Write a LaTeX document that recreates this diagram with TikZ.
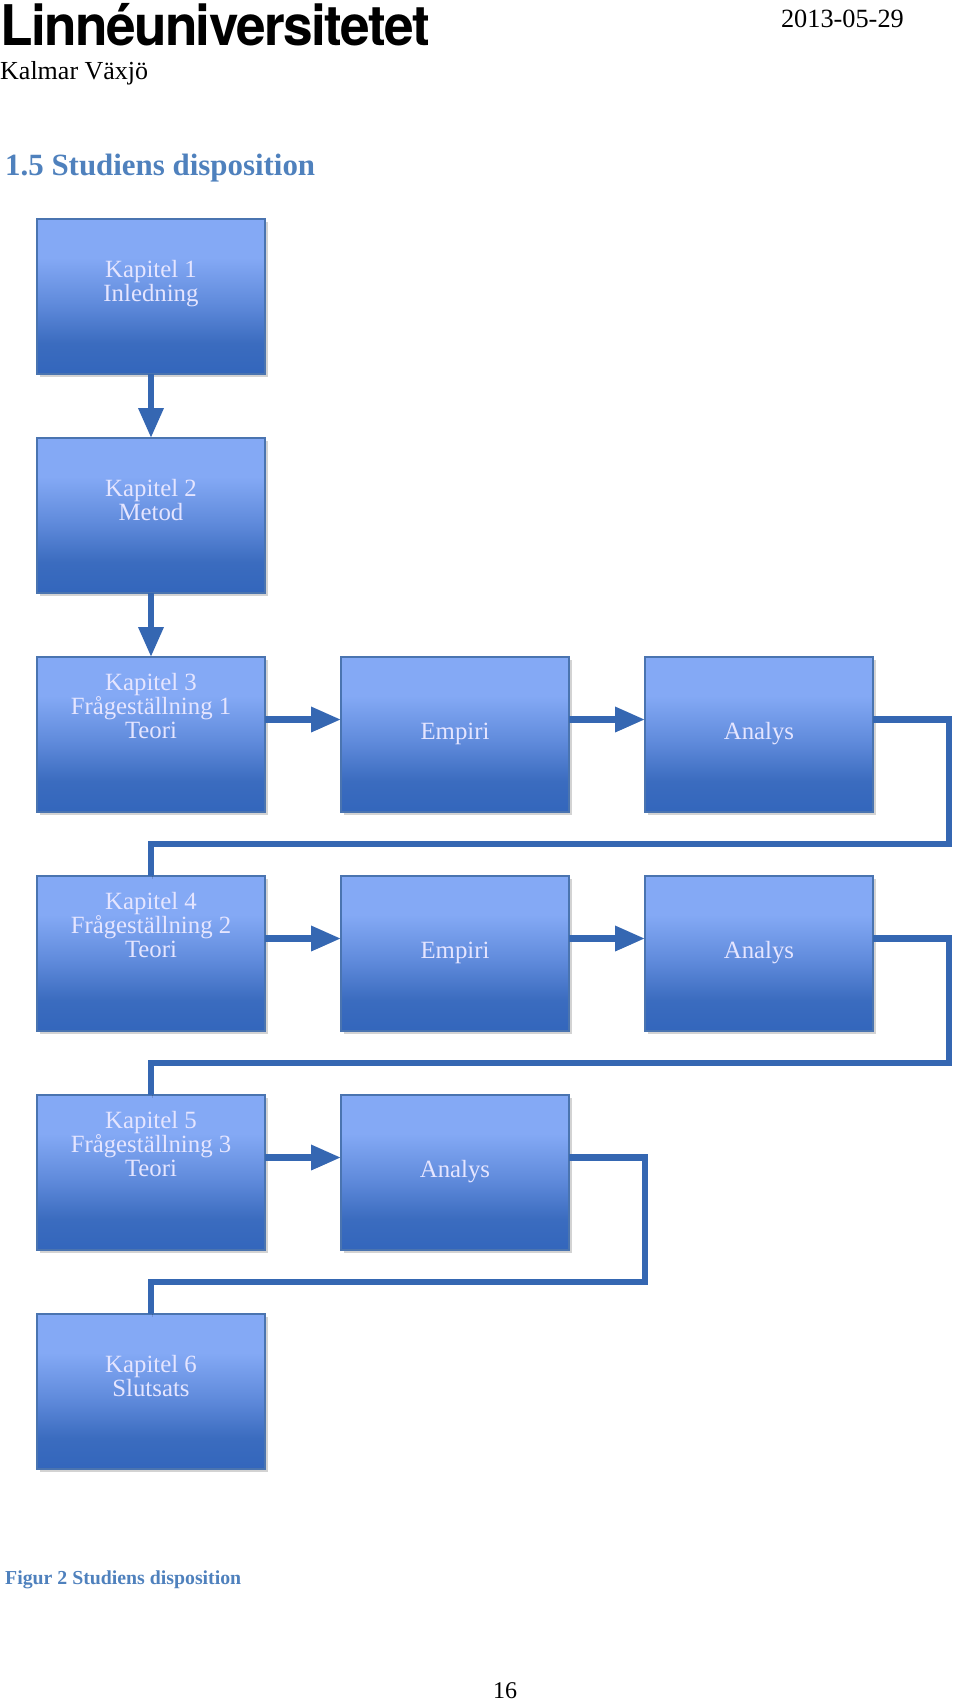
\documentclass[tikz,border=0pt]{standalone}
\usepackage{fontspec}
\setmainfont{Liberation Serif}
\newfontfamily\logofont[LetterSpace=-3]{TeX Gyre Heros}
\usetikzlibrary{arrows.meta, shadows}

\definecolor{boxline}{HTML}{4A74B0}
\definecolor{flowblue}{HTML}{3567B2}
\definecolor{headblue}{HTML}{4F81BD}
\definecolor{filltop}{HTML}{84A9F5}
\definecolor{fillmid}{HTML}{5F8ADB}
\definecolor{filllow}{HTML}{3B6CBF}
\definecolor{fillend}{HTML}{3366BC}
\pgfdeclareverticalshading{chapfill}{100bp}{
	color(0bp)=(fillend);
	color(25bp)=(fillend);
	color(35bp)=(filllow);
	color(47.5bp)=(fillmid);
	color(62.5bp)=(filltop);
	color(100bp)=(filltop)}

\begin{document}
\begin{tikzpicture}[x=1pt,y=-1pt,node distance=219pt,>={Triangle[length=30pt,width=24pt]},
	chapbox/.style={draw=boxline,line width=2pt,shading=chapfill,minimum width=228pt,minimum height=155pt,
		inner sep=0pt,outer sep=0pt,align=center,text=white!90!blue,font=\fontsize{24.8}{24}\selectfont,text depth=#1,
		drop shadow={shadow xshift=3pt,shadow yshift=-3pt,opacity=.35}},
	across/.style={node distance=304pt},
	flow/.style={draw=flowblue,line width=6.5pt,preaction={draw=black,opacity=.15,transform canvas={xshift=1.5pt,yshift=-2.5pt}}},
	ret/.style={flow,line join=miter}]
	\useasboundingbox (0,0) rectangle (960,1701);

	% page head
	\node[anchor=base west,inner sep=0pt,font=\logofont\bfseries\fontsize{56}{56}\selectfont] (logo) at (0,45) {\scalebox{.95}[1]{Linnéuniversitetet}};
	\node[anchor=base west,inner sep=0pt,font=\fontsize{26}{26}\selectfont] (orter) at (0,79) {Kalmar Växjö};
	\node[anchor=base east,inner sep=0pt,font=\fontsize{26.3}{26}\selectfont] (datum) at (904,27) {2013-05-29};
	\node[anchor=base west,inner sep=0pt,text=headblue,font=\bfseries\fontsize{30.9}{30}\selectfont] (rubrik) at (5,175) {1.5 Studiens disposition};

	% chapter boxes
	\node[chapbox=32pt] (K1) at (151,296.5) {Kapitel 1\\Inledning};
	\node[chapbox=32pt] (K2) [below of=K1] {Kapitel 2\\Metod};
	\node[chapbox=57pt] (K3) [below of=K2] {Kapitel 3\\Frågeställning 1\\Teori};
	\node[chapbox=57pt] (K4) [below of=K3] {Kapitel 4\\Frågeställning 2\\Teori};
	\node[chapbox=57pt] (K5) [below of=K4] {Kapitel 5\\Frågeställning 3\\Teori};
	\node[chapbox=32pt] (K6) [below of=K5] {Kapitel 6\\Slutsats};
	\node[chapbox=7pt,across] (E1) [right of=K3] {Empiri};
	\node[chapbox=7pt,across] (A1) [right of=E1] {Analys};
	\node[chapbox=7pt,across] (E2) [right of=K4] {Empiri};
	\node[chapbox=7pt,across] (A2) [right of=E2] {Analys};
	\node[chapbox=7pt,across] (A3) [right of=K5] {Analys};

	% bends of the return lines
	\coordinate (R1) at (949,844);
	\coordinate (R2) at (949,1063);
	\coordinate (R3) at (645,1282);

	\draw[flow,->] (K1) -- (K2);
	\draw[flow,->] (K2) -- (K3);
	\draw[flow,->] ([yshift=15pt]K3.east) -- ([yshift=15pt]E1.west);
	\draw[flow,->] ([yshift=15pt]E1.east) -- ([yshift=15pt]A1.west);
	\draw[flow,->] ([yshift=15pt]K4.east) -- ([yshift=15pt]E2.west);
	\draw[flow,->] ([yshift=15pt]E2.east) -- ([yshift=15pt]A2.west);
	\draw[flow,->] ([yshift=15pt]K5.east) -- ([yshift=15pt]A3.west);
	\draw[ret] ([yshift=15pt]A1.east) -| (R1) -| (K4.north);
	\draw[ret] ([yshift=15pt]A2.east) -| (R2) -| (K5.north);
	\draw[ret] ([yshift=15pt]A3.east) -| (R3) -| (K6.north);

	% page foot
	\node[anchor=base west,inner sep=0pt,text=headblue,font=\bfseries\fontsize{19.8}{19.8}\selectfont] (figurtext) at (5,1584) {Figur 2 Studiens disposition};
	\node[anchor=base,inner sep=0pt,font=\fontsize{24}{24}\selectfont] (sida) at (505,1698) {16};
\end{tikzpicture}
\end{document}
